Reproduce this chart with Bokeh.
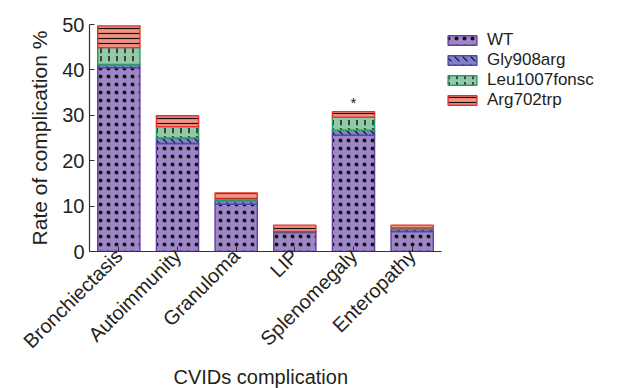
import math
from bokeh.plotting import figure
from bokeh.models import Range1d, Legend, LegendItem, ColumnDataSource, FixedTicker, Title
from bokeh.core.properties import value
from bokeh.embed import file_html
from bokeh.resources import INLINE

categories = ["Bronchiectasis", "Autoimmunity", "Granuloma", "LIP", "Splenomegaly", "Enteropathy"]
series_names = ["WT", "Gly908arg", "Leu1007fonsc", "Arg702trp"]
wt = [40.5, 23.8, 10.4, 4.2, 25.6, 4.4]
gly908arg = [0.7, 1.2, 0.8, 0.2, 1.1, 0.5]
leu1007fonsc = [3.7, 2.5, 0.4, 0.0, 2.9, 0.3]
arg702trp = [4.8, 2.4, 1.3, 1.4, 1.2, 0.6]
y_ticks = [0, 10, 20, 30, 40, 50]
star_category = ["Splenomegaly"]
star_text = ["*"]
x_title = "CVIDs complication"
y_title = "Rate of complication %"

FONT = "Liberation Sans"

# category slots on a numeric axis (slot i centred at i + 0.5)
xpos = [i + 0.5 for i in range(len(categories))]
data = {"x": xpos, "cat": categories, "WT": wt, "Gly908arg": gly908arg,
        "Leu1007fonsc": leu1007fonsc, "Arg702trp": arg702trp}
source = ColumnDataSource(data)

W, H = 634, 388
LEFT, TOP, BOTTOM = 89, 24, 137
slot_px = 352 / len(categories)
frame_w = W - LEFT
frame_h = H - TOP - BOTTOM
p = figure(width=W, height=H, x_range=Range1d(0, frame_w / slot_px), y_range=Range1d(0, 50),
           output_backend="svg", toolbar_location=None,
           min_border_left=LEFT, min_border_right=0, min_border_top=TOP, min_border_bottom=BOTTOM)
p.outline_line_color = None
p.xgrid.grid_line_color = None
p.ygrid.grid_line_color = None

fills = ["#9c86c8", "#8282cc", "#92c9a8", "#f29282"]
lines = ["#6a3fa0", "#4a4ab2", "#2e9a66", "#e4302c"]
hatches = [".", "`", ":", "-"]
hscales = [8, 8, 8, 5]
hweights = [1.3, 1.2, 1.4, 1.2]

renderers = p.vbar_stack(series_names, x="x", width=0.72, source=source,
                         fill_color=fills, line_color=lines, line_width=1.4,
                         hatch_pattern=hatches, hatch_color="#111111",
                         hatch_scale=hscales, hatch_weight=hweights)

star_x = [xpos[categories.index(c)] for c in star_category]
star_y = [sum(v[categories.index(c)] for v in (wt, gly908arg, leu1007fonsc, arg702trp)) for c in star_category]
p.text(x=star_x, y=[y + 2.0 for y in star_y], text=star_text, text_align="center",
       text_baseline="middle", text_font=value(FONT), text_font_size="15px", text_color="#222222")

legend = Legend(items=[LegendItem(label=n, renderers=[r]) for n, r in zip(series_names, renderers)],
                orientation="vertical", location=(355, frame_h - 86))
legend.glyph_width = 36
legend.glyph_height = 12
legend.label_height = 19
legend.label_standoff = 7
legend.spacing = -1
legend.padding = 6
legend.margin = 0
legend.border_line_color = None
legend.background_fill_alpha = 0
legend.label_text_font = FONT
legend.label_text_font_size = "17px"
legend.label_text_color = "#231f20"
p.add_layout(legend, "center")

for ax in (p.xaxis[0], p.yaxis[0]):
    ax.axis_line_color = "#333333"
    ax.axis_line_width = 1.2
    ax.major_tick_line_color = "#333333"
    ax.major_label_text_font = FONT
    ax.major_label_text_font_size = "20px"
    ax.major_label_text_color = "#231f20"
    ax.axis_label_text_font = FONT
    ax.axis_label_text_font_size = "21px"
    ax.axis_label_text_font_style = "normal"
    ax.axis_label_text_color = "#231f20"
    ax.minor_tick_line_color = None
    ax.major_tick_in = 5
    ax.major_tick_out = 0

p.yaxis.ticker = FixedTicker(ticks=y_ticks)
p.yaxis.axis_label = y_title
p.yaxis.major_label_standoff = 5
p.yaxis.axis_label_standoff = 8

p.xaxis.ticker = FixedTicker(ticks=xpos)
p.xaxis.major_label_overrides = {x: c for x, c in zip(xpos, categories)}
p.xaxis.bounds = (0, len(categories))
p.xaxis.major_label_orientation = math.pi / 4
p.xaxis.major_label_text_font_size = "20px"
p.xaxis.major_label_standoff = 1

# x-axis title centred under the six category slots (not the legend area)
xt = Title(text=x_title, align="left", offset=84,
           text_font=FONT, text_font_size="20px", text_font_style="normal",
           text_color="#231f20", standoff=0)
p.add_layout(xt, "below")

open("out.html", "w").write(file_html(p, INLINE))
